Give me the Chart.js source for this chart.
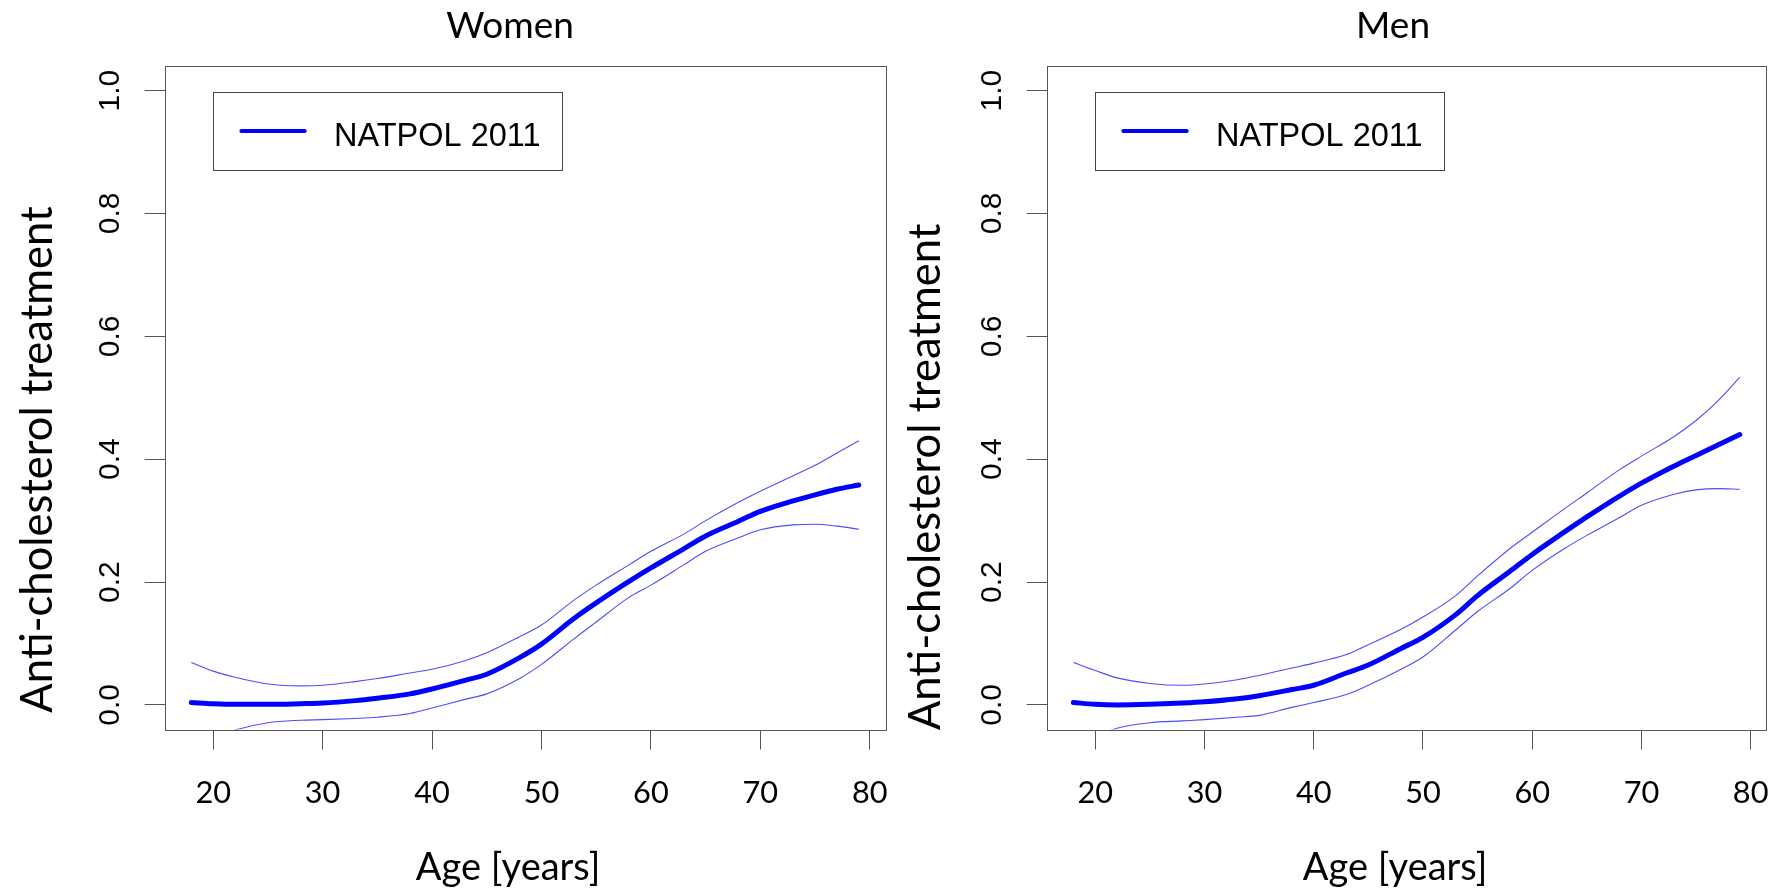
<!DOCTYPE html>
<html><head><meta charset="utf-8">
<script src="https://cdn.jsdelivr.net/npm/chart.js@4.4.0/dist/chart.umd.min.js"></script>
<style>
html,body{margin:0;padding:0;background:#fff;overflow:hidden;}
#wrap{position:relative;width:1780px;height:894px;background:#fff;}
canvas{position:absolute;top:0;}
</style></head><body>
<div id="wrap">
<canvas id="cWomen" width="890" height="894" style="left:0px"></canvas>
<canvas id="cMen" width="890" height="894" style="left:890px"></canvas>
</div>
<script>
// ---- data ----
const ages = [18,20,22,25,28,30,33,35,38,40,43,45,48,50,53,55,58,60,63,65,68,70,73,75,77,79];

const womenMain  = [0.004,0.002,0.001,0.001,0.002,0.003,0.007,0.011,0.018,0.026,0.040,0.050,0.077,0.099,0.141,0.166,0.201,0.223,0.254,0.275,0.299,0.315,0.332,0.342,0.351,0.358];
const womenUpper = [0.069,0.055,0.045,0.034,0.031,0.032,0.038,0.043,0.052,0.058,0.072,0.085,0.111,0.130,0.171,0.195,0.228,0.250,0.278,0.300,0.330,0.348,0.373,0.390,0.410,0.430];
const womenLower = [-0.070,-0.055,-0.041,-0.029,-0.025,-0.024,-0.022,-0.020,-0.014,-0.005,0.009,0.018,0.043,0.066,0.108,0.135,0.175,0.195,0.228,0.250,0.272,0.285,0.293,0.294,0.291,0.286];

const menMain  = [0.004,0.001,0.000,0.001,0.003,0.005,0.010,0.015,0.025,0.032,0.052,0.065,0.092,0.110,0.147,0.178,0.218,0.245,0.282,0.306,0.340,0.361,0.389,0.406,0.423,0.440];
const menUpper = [0.069,0.056,0.044,0.035,0.032,0.034,0.041,0.048,0.060,0.068,0.082,0.098,0.123,0.143,0.178,0.210,0.255,0.281,0.320,0.345,0.383,0.405,0.437,0.463,0.495,0.533];
const menLower = [-0.070,-0.052,-0.038,-0.029,-0.026,-0.024,-0.020,-0.017,-0.004,0.004,0.017,0.032,0.058,0.078,0.122,0.152,0.190,0.219,0.255,0.276,0.305,0.325,0.343,0.350,0.352,0.351];

const xTickValues = [20,30,40,50,60,70,80];
const yTickValues = [0.0,0.2,0.4,0.6,0.8,1.0];
const panelTitles = ['Women','Men'];
const xAxisTitle = 'Age [years]';
const yAxisTitle = 'Anti-cholesterol treatment';
const seriesLabel = 'NATPOL 2011';

// ---- plugins ----
const framePlugin = {
  id:'frame',
  afterDraw(chart){
    const {ctx, chartArea:a} = chart;
    ctx.save();
    ctx.strokeStyle = '#555'; ctx.lineWidth = 1;
    const l = Math.round(a.left)+0.5, t = Math.round(a.top)+0.5;
    const r = Math.round(a.right)+0.5, b = Math.round(a.bottom)+0.5;
    ctx.strokeRect(l, t, r-l, b-t);
    ctx.restore();
  }
};

const textPlugin = {
  id:'panelText',
  afterDraw(chart, args, o){
    const {ctx, chartArea:a} = chart;
    const cx = (a.left + a.right)/2;
    ctx.save();
    ctx.fillStyle = '#000';
    ctx.textBaseline = 'alphabetic';
    ctx.textAlign = 'center';
    ctx.font = '37px Lato';
    ctx.fillText(o.title, cx + o.titleDx, a.top - 28.5);
    ctx.font = '38px Lato';
    ctx.fillText(o.xTitle, cx + o.xTitleDx, a.bottom + 150.5);
    ctx.translate(a.left - o.yTitleGap, a.bottom + o.yTitleDy);
    ctx.rotate(-Math.PI/2);
    ctx.textAlign = 'left';
    ctx.font = '43.5px Lato';
    ctx.fillText(o.yTitle, 0, 0);
    ctx.restore();
  }
};

const legendBoxPlugin = {
  id:'legendBox',
  afterDraw(chart){
    const {ctx, chartArea:a} = chart;
    const ds = chart.data.datasets[0];
    const bx = Math.round(a.left + 48), by = Math.round(a.top + 25.7), bw = 349, bh = 78;
    ctx.save();
    ctx.fillStyle = '#fff';
    ctx.fillRect(bx, by, bw, bh);
    ctx.strokeStyle = '#444'; ctx.lineWidth = 1;
    ctx.strokeRect(bx+0.5, by+0.5, bw, bh);
    ctx.strokeStyle = ds.borderColor; ctx.lineWidth = 4; ctx.lineCap = 'round';
    ctx.beginPath(); ctx.moveTo(bx+28.4, by+39); ctx.lineTo(bx+91.7, by+39); ctx.stroke();
    ctx.fillStyle = '#000';
    ctx.font = '32.5px "Liberation Sans", Arial, sans-serif';
    ctx.textAlign = 'left'; ctx.textBaseline = 'alphabetic';
    ctx.fillText(ds.label, bx+121, by+54.3);
    ctx.restore();
  }
};

function pts(vals){ return ages.map((a,i)=>({x:a, y:vals[i]})); }

function makeChart(id, p){
  return new Chart(document.getElementById(id), {
    type:'line',
    data:{ datasets:[
      {label:seriesLabel, data:pts(p.main), borderColor:'#0000ff', borderWidth:5, borderCapStyle:'round', borderJoinStyle:'round', pointRadius:0, cubicInterpolationMode:'monotone', fill:false},
      {label:seriesLabel+' upper', data:pts(p.upper), borderColor:'rgba(0,0,255,0.7)', borderWidth:1.1, pointRadius:0, cubicInterpolationMode:'monotone', fill:false},
      {label:seriesLabel+' lower', data:pts(p.lower), borderColor:'rgba(0,0,255,0.7)', borderWidth:1.1, pointRadius:0, cubicInterpolationMode:'monotone', fill:false}
    ]},
    options:{
      responsive:false, animation:false, devicePixelRatio:1,
      layout:{padding:{left:0, right:p.padRight, top:66, bottom:0}},
      plugins:{
        legend:{display:false}, tooltip:{enabled:false}, title:{display:false},
        panelText:{title:p.title, titleDx:p.titleDx, xTitle:xAxisTitle, xTitleDx:p.xTitleDx, yTitle:yAxisTitle, yTitleGap:p.yTitleGap, yTitleDy:p.yTitleDy}
      },
      scales:{
        x:{
          type:'linear', min:15.56, max:81.44,
          afterBuildTicks:s=>{ s.ticks = xTickValues.map(v=>({value:v})); },
          afterFit:s=>{ s.height = 894 - 729.5; s.paddingLeft = 0; s.paddingRight = 0; },
          border:{display:false},
          grid:{drawOnChartArea:false, drawTicks:true, tickLength:20, tickColor:'#555', tickWidth:1},
          ticks:{autoSkip:false, maxRotation:0, minRotation:0, padding:25.1, color:'#000', font:{family:'Lato', size:30.7}, callback:v=>String(v)}
        },
        y:{
          type:'linear', min:-0.04, max:1.04,
          afterBuildTicks:s=>{ s.ticks = yTickValues.map(v=>({value:v})); },
          afterFit:s=>{ s.width = p.yWidth; s.paddingTop = 0; s.paddingBottom = 0; },
          border:{display:false},
          grid:{drawOnChartArea:false, drawTicks:true, tickLength:20, tickColor:'#555', tickWidth:1},
          ticks:{autoSkip:false, minRotation:90, maxRotation:90, crossAlign:'center', padding:13.5, color:'#000', font:{family:'"Liberation Sans", Arial, sans-serif', size:30}, callback:v=>Number(v).toFixed(1)}
        }
      }
    },
    plugins:[framePlugin, textPlugin, legendBoxPlugin]
  });
}

function build(){
  makeChart('cWomen', {title:panelTitles[0], main:womenMain, upper:womenUpper, lower:womenLower,
    yWidth:164.6, padRight:4.5, titleDx:-15, xTitleDx:-17, yTitleGap:113, yTitleDy:-16.8});
  makeChart('cMen', {title:panelTitles[1], main:menMain, upper:menUpper, lower:menLower,
    yWidth:156.7, padRight:13.6, titleDx:-13.5, xTitleDx:-11.5, yTitleGap:106.7, yTitleDy:0.5});
}
Promise.allSettled(['37px Lato','30px "Liberation Sans"'].map(f=>document.fonts.load(f))).then(build);
</script>
</body></html>
